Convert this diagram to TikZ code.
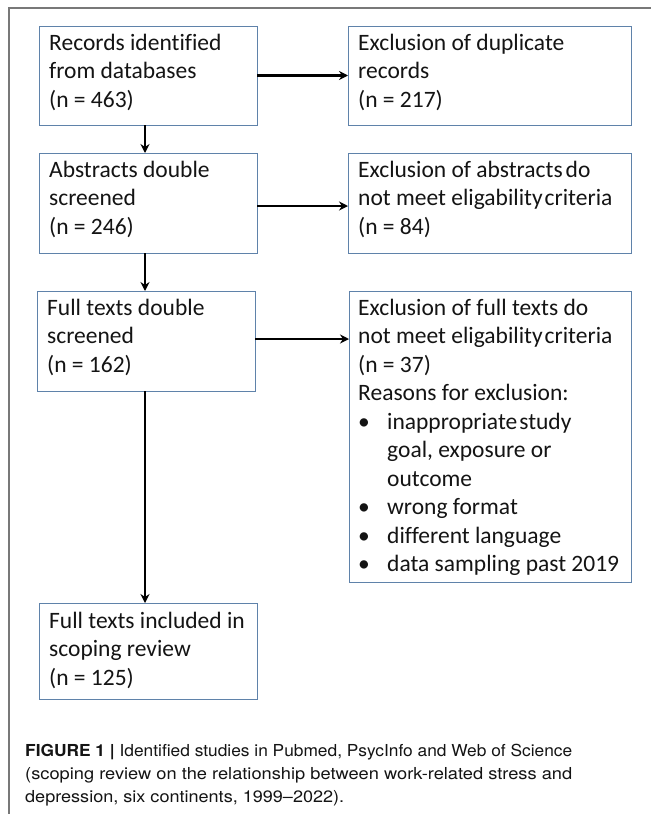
\documentclass[tikz,border=0pt]{standalone}
\usepackage{fontspec}
\setmainfont{Carlito}[Ligatures=NoCommon]
\newfontfamily\capfont{TeX Gyre Heros}
\usetikzlibrary{arrows.meta}
\definecolor{boxblue}{RGB}{95,130,170}
\definecolor{framegray}{RGB}{120,120,120}
\definecolor{txt}{RGB}{20,20,20}
\newcommand\mybul{\makebox[29pt][l]{•}}
\newcommand\myind{\hspace*{29pt}}
\tikzset{
  box/.style={draw=boxblue, line width=1pt, inner sep=0pt, outer sep=0pt, anchor=north west},
  boxtext/.style={anchor=base west, inner sep=0pt, text=txt, font=\fontsize{23.5}{28.5}\selectfont},
  arr/.style={line width=2.5pt, -{Stealth[length=9pt,width=9pt]}},
  captext/.style={anchor=base west, inner sep=0pt, text=txt, font=\capfont\fontsize{16.5}{23}\selectfont}
}
\begin{document}
\begin{tikzpicture}[x=1pt,y=-1pt]
\useasboundingbox (0,0) rectangle (651,814);
\fill[white] (0,0) rectangle (651,814);
% frame
\draw[framegray, line width=1.2pt] (9,814) -- (9,8) -- (651,8);
% boxes
\node[box, minimum width=218pt, minimum height=99pt]  (b1) at (39,26) {};
\node[box, minimum width=283pt, minimum height=99pt]  (b2) at (348,26) {};
\node[box, minimum width=218pt, minimum height=100pt] (b3) at (39,153) {};
\node[box, minimum width=283pt, minimum height=100pt] (b4) at (348,153) {};
\node[box, minimum width=218pt, minimum height=100pt] (b5) at (37,291) {};
\node[box, minimum width=282pt, minimum height=291pt] (b6) at (349,291) {};
\node[box, minimum width=218pt, minimum height=96pt]  (b7) at (39,603) {};
% texts
\node[boxtext] (t1) at ([shift={(10,24)}]b1.north west) {\parbox[t]{205pt}{Records identified\\from databases\\(n = 463)}};
\node[boxtext] (t2) at ([shift={(10,24)}]b2.north west) {\parbox[t]{270pt}{Exclusion of duplicate\\records\\(n = 217)}};
\node[boxtext] (t3) at ([shift={(10,24)}]b3.north west) {\parbox[t]{205pt}{Abstracts double\\screened\\(n = 246)}};
\node[boxtext] (t4) at ([shift={(10,24)}]b4.north west) {\parbox[t]{275pt}{Exclusion of abstracts\hspace{3pt}do\\not meet eligability\hspace{2pt}criteria\\(n = 84)}};
\node[boxtext] (t5) at ([shift={(10,24)}]b5.north west) {\parbox[t]{205pt}{Full texts double\\screened\\(n = 162)}};
\node[boxtext] (t6) at ([shift={(9,24)}]b6.north west) {\parbox[t]{275pt}{Exclusion of full texts do\\not meet eligability\hspace{2pt}criteria\\(n = 37)\\Reasons for exclusion:\\\mybul inappropriate\hspace{2pt}study\\\myind goal, exposure or\\\myind outcome\\\mybul wrong format\\\mybul different language\\\mybul data sampling past 2019}};
\node[boxtext] (t7) at ([shift={(10,25)}]b7.north west) {\parbox[t]{210pt}{Full texts included in\\scoping review\\(n = 125)}};
% arrows
\draw[arr] (b1.east) -- (b1.east -| b2.west);
\draw[arr] ([yshift=-3pt]b3.east) -- ([yshift=-3pt]b3.east -| b4.west);
\draw[arr] ([yshift=2pt]b5.east) -- ([yshift=2pt]b5.east -| b6.west);
\draw[arr] ([xshift=-3pt]b1.south) -- ([xshift=-3pt]b3.north);
\draw[arr] ([xshift=-3pt]b3.south) -- ([xshift=-3pt]b3.south |- b5.north);
\draw[arr] ([xshift=-1pt]b5.south) -- ([xshift=-1pt]b5.south |- b7.north);
% caption
\node[captext] (c1) at (25,756) {\resizebox{547pt}{\height}{\textbf{FIGURE 1} \textbf{|} Identified studies in Pubmed, PsycInfo and Web of Science}};
\node[captext] (c2) at (25,779) {\resizebox{547pt}{\height}{(scoping review on the relationship between work-related stress and}};
\node[captext] (c3) at (25,802) {\resizebox{319pt}{\height}{depression, six continents, 1999–2022).}};
\end{tikzpicture}
\end{document}
